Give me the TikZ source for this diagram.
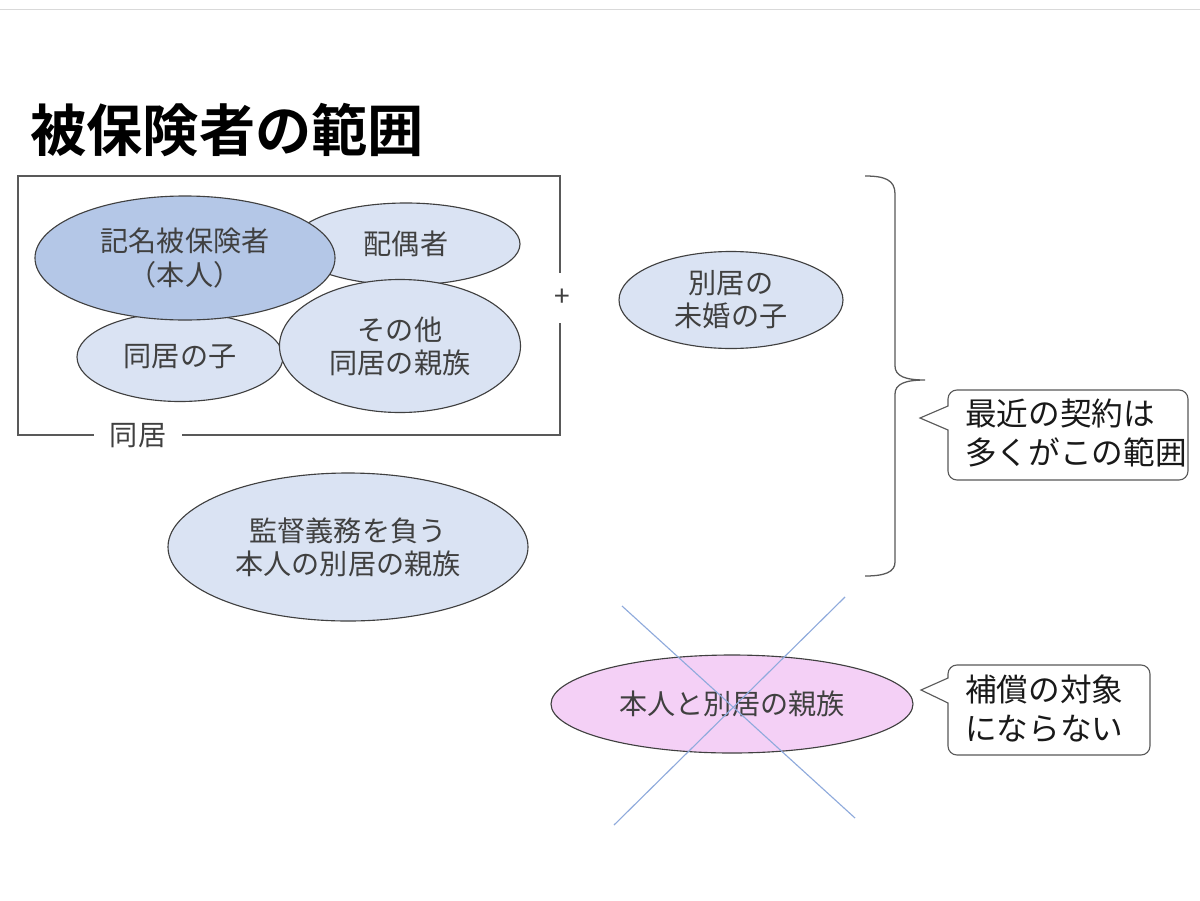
\documentclass[tikz,border=0pt]{standalone}
\usepackage{fontspec}
\setmainfont{Noto Sans CJK JP}[BoldFont={Noto Sans CJK JP Bold}]
\usepackage{xcolor}
\usepackage{tikz}
\usetikzlibrary{
  positioning,
  calc,
  shapes.geometric,
}

\definecolor{selfblue}{HTML}{B4C7E7}
\definecolor{kinblue}{HTML}{DAE3F3}
\definecolor{outpink}{HTML}{F4D0F6}
\definecolor{crossblue}{HTML}{8FAADC}
\definecolor{inkgray}{HTML}{404040}
\definecolor{framegray}{HTML}{595959}

\newlength\px
\setlength\px{0.025cm}

\begin{document}
\begin{tikzpicture}[
  x=\px, y=-\px,
  body/.style={font=\fontsize{20}{23.5}\selectfont, text=inkgray, align=center},
  kin/.style={ellipse, draw=inkgray, line width=0.8pt, fill=kinblue, inner sep=0pt, body},
  note/.style={font=\fontsize{22.5}{27.7}\selectfont, text=black!90, align=left, inner sep=0pt},
  noteline/.style={draw=framegray, line width=0.8pt},
]

\useasboundingbox[fill=white] (0,0) rectangle (1200,900);
\draw[black!15, line width=1.4pt] (0,9.5) -- (1200,9.5);

\node[anchor=west, inner sep=0pt, font=\fontsize{40}{44}\selectfont\bfseries] (title)
  at (30,130) {被保険者の範囲};

%% living together
\draw[framegray, line width=0.8pt] (18,176) rectangle (560,435);
\node[body, fill=white, inner xsep=16\px, inner ysep=2\px] (doukyo) at (138,436) {同居};
\node[body, fill=white, inner xsep=1\px, minimum height=50\px] (plus) at (562,298) {+};

\node[kin, minimum width=228\px, minimum height=82\px] (haigu) at (406,244) {配偶者};
\node[kin, minimum width=206\px, minimum height=89\px] (kodomo) at (180,357) {同居の子};
\node[kin, minimum width=241\px, minimum height=133\px] (sonota) at (400,346) {その他\\同居の親族};
\node[kin, fill=selfblue, minimum width=300\px, minimum height=124\px] (honnin) at (185,258) {記名被保険者\\（本人）};

%% living apart
\node[kin, minimum width=224\px, minimum height=97\px] (mikon) at (731,300) {別居の\\未婚の子};
\node[kin, minimum width=360\px, minimum height=148\px] (kantoku) at (348,547) {監督義務を負う\\本人の別居の親族};

%% brace
\draw[framegray, line width=0.9pt]
  (865,176) .. controls (885,176) and (895,180) .. (895,194) -- (895,366)
  .. controls (895,376) and (905,380) .. (925,380)
  .. controls (905,380) and (895,384) .. (895,394) -- (895,562)
  .. controls (895,572) and (885,576) .. (865,576);

\draw[noteline] (920,418) -- (948,430) [rounded corners=9\px] -- (948,480)
  -- (1188,480) -- (1188,390) -- (948,390) [sharp corners] -- (948,406) -- cycle;
\node[note, anchor=west] (recent) at (965,433) {最近の契約は\\多くがこの範囲};

%% not covered
\node[kin, fill=outpink, minimum width=362\px, minimum height=98\px] (bekkyo) at (732,704) {本人と別居の親族};
\draw[crossblue, line width=0.8pt] (622,606) -- (855,818);
\draw[crossblue, line width=0.8pt] (845,597) -- (614,825);

\draw[noteline] (921,690) -- (948,703) [rounded corners=9\px] -- (948,755)
  -- (1150,755) -- (1150,665) -- (948,665) [sharp corners] -- (948,678) -- cycle;
\node[note, anchor=west] (hoshou) at (965,709) {補償の対象\\にならない};

\end{tikzpicture}
\end{document}
